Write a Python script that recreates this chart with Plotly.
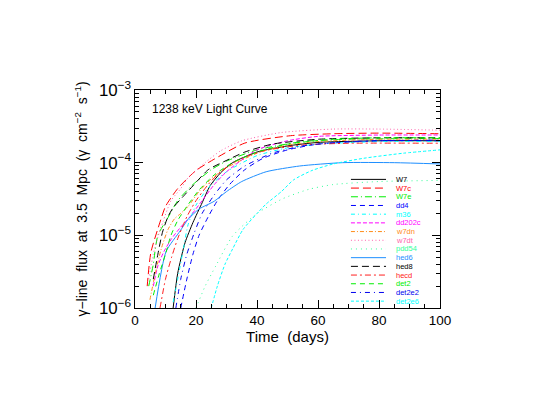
import plotly.graph_objects as go

# --- data (days, flux in photons cm^-2 s^-1) ---
w7_t = [12.5, 14, 16.4, 19, 22, 24.6, 28, 32, 40, 50, 60, 80, 100]
w7_f = [1.0e-6, 3.0e-6, 7.9e-6, 1.5e-5, 2.8e-5, 4.8e-5, 7.2e-5, 1.0e-4, 1.4e-4, 1.7e-4, 1.9e-4, 2.0e-4, 2.0e-4]

w7c_t = [4, 5.2, 8.5, 10, 14, 20, 26, 36, 51, 65, 80, 100]
w7c_f = [2.0e-6, 5.8e-6, 1.66e-5, 2.5e-5, 4.4e-5, 7.8e-5, 1.12e-4, 1.86e-4, 2.35e-4, 2.5e-4, 2.55e-4, 2.5e-4]

w7e_t = [4.5, 5.9, 7.5, 10.8, 14, 19, 25, 30, 40, 55, 70, 100]
w7e_f = [2.0e-6, 3.8e-6, 1.0e-5, 1.75e-5, 3.0e-5, 5.0e-5, 8.0e-5, 1.05e-4, 1.5e-4, 1.95e-4, 2.1e-4, 2.15e-4]

dd4_t = [15, 17, 19, 21, 24, 27, 31, 36, 42, 50, 60, 80, 100]
dd4_f = [1.0e-6, 2.5e-6, 5.5e-6, 1.0e-5, 1.8e-5, 3.0e-5, 5.0e-5, 8.0e-5, 1.15e-4, 1.5e-4, 1.8e-4, 2.0e-4, 2.0e-4]

m36_t = [12.5, 14, 15.7, 17.4, 20, 24, 30, 40, 50, 60, 80, 100]
m36_f = [1.2e-6, 2.5e-6, 6.0e-6, 1.4e-5, 2.6e-5, 4.5e-5, 7.5e-5, 1.25e-4, 1.6e-4, 1.8e-4, 1.95e-4, 1.95e-4]

dd202c_t = [6, 7.5, 9.5, 12, 15, 18, 22, 26, 30, 40, 50, 60, 80, 100]
dd202c_f = [2.0e-6, 3.8e-6, 6.0e-6, 9.0e-6, 1.3e-5, 1.8e-5, 3.0e-5, 5.0e-5, 7.5e-5, 1.5e-4, 2.0e-4, 2.3e-4, 2.4e-4, 2.4e-4]

w7dn_t = [4.9, 6.5, 8.6, 10.8, 13, 15, 17.4, 21, 25, 30, 40, 50, 60, 80, 100]
w7dn_f = [1.3e-6, 2.8e-6, 6.5e-6, 1.2e-5, 1.7e-5, 2.0e-5, 2.5e-5, 4.0e-5, 6.0e-5, 8.5e-5, 1.35e-4, 1.75e-4, 1.95e-4, 2.1e-4, 2.1e-4]

w7dt_t = [4.5, 6, 7.5, 9.2, 11.8, 15, 17.4, 23, 28, 35, 48, 65, 80, 100]
w7dt_f = [2.5e-6, 5.5e-6, 9.5e-6, 1.55e-5, 3.0e-5, 4.4e-5, 6.2e-5, 1.0e-4, 1.45e-4, 2.0e-4, 2.6e-4, 2.9e-4, 2.9e-4, 2.8e-4]

pdd54_t = [20, 23, 26.5, 32, 40, 48.5, 57, 65, 80, 100]
pdd54_f = [1.0e-6, 2.0e-6, 3.8e-6, 9.8e-6, 2.0e-5, 3.2e-5, 4.3e-5, 5.0e-5, 5.5e-5, 5.7e-5]

hed6_t = [6.6, 10.2, 14.8, 17.4, 21, 26, 30, 35, 43, 54, 68, 85, 100]
hed6_f = [1.0e-6, 6.0e-6, 1.15e-5, 1.66e-5, 2.3e-5, 2.95e-5, 4.0e-5, 5.5e-5, 7.5e-5, 9.0e-5, 1.0e-4, 1.0e-4, 9.6e-5]

hed8_t = [6, 7.5, 9, 10.8, 12.5, 16, 19, 24, 29.5, 36, 45, 60, 80, 100]
hed8_f = [2.5e-6, 5.5e-6, 1.1e-5, 1.8e-5, 2.4e-5, 3.5e-5, 4.8e-5, 8.0e-5, 1.05e-4, 1.4e-4, 1.8e-4, 2.1e-4, 2.2e-4, 2.2e-4]

hecd_t = [8.2, 10, 12, 14, 17, 20, 24, 28, 34, 42, 55, 70, 100]
hecd_f = [1.0e-6, 2.5e-6, 5.0e-6, 9.0e-6, 1.8e-5, 3.0e-5, 5.0e-5, 7.5e-5, 1.1e-4, 1.45e-4, 1.75e-4, 1.85e-4, 1.85e-4]

det2_t = [6, 8, 10, 11.8, 14, 17, 21, 26, 32, 40, 50, 65, 80, 100]
det2_f = [1.5e-6, 3.0e-6, 5.5e-6, 1.0e-5, 1.6e-5, 2.5e-5, 4.2e-5, 6.8e-5, 1.0e-4, 1.4e-4, 1.8e-4, 2.1e-4, 2.2e-4, 2.2e-4]

det2e2_t = [13.4, 15, 17, 19.5, 22, 26, 30, 36, 45, 55, 70, 100]
det2e2_f = [1.0e-6, 2.5e-6, 5.5e-6, 1.1e-5, 2.0e-5, 3.6e-5, 5.8e-5, 9.0e-5, 1.35e-4, 1.7e-4, 1.95e-4, 2.05e-4]

det2e6_t = [25, 27, 29.5, 32, 35.4, 40, 43, 48, 52, 58, 65, 75, 88, 100]
det2e6_f = [1.0e-6, 2.0e-6, 4.0e-6, 6.5e-6, 1.2e-5, 2.0e-5, 2.7e-5, 4.0e-5, 5.8e-5, 7.8e-5, 9.6e-5, 1.15e-4, 1.35e-4, 1.5e-4]

models = ["W7", "W7c", "W7e", "dd4", "m36", "dd202c", "w7dn", "w7dt",
          "pdd54", "hed6", "hed8", "hecd", "det2", "det2e2", "det2e6"]
times = [w7_t, w7c_t, w7e_t, dd4_t, m36_t, dd202c_t, w7dn_t, w7dt_t,
         pdd54_t, hed6_t, hed8_t, hecd_t, det2_t, det2e2_t, det2e6_t]
fluxes = [w7_f, w7c_f, w7e_f, dd4_f, m36_f, dd202c_f, w7dn_f, w7dt_f,
          pdd54_f, hed6_f, hed8_f, hecd_f, det2_f, det2e2_f, det2e6_f]

# line styles (colour, dash) per model
styles = {
    "W7": ("#000000", "solid"),
    "W7c": ("#ff0000", "8px,4px"),
    "W7e": ("#00ee00", "7px,3px,1px,3px"),
    "dd4": ("#0000ff", "5px,4px"),
    "m36": ("#00ffff", "4px,3px,1px,3px"),
    "dd202c": ("#ff00ff", "4px,2px"),
    "w7dn": ("#ff8c1a", "4px,2px,1px,2px"),
    "w7dt": ("#ff5faa", "1px,2.5px"),
    "pdd54": ("#33ff99", "1px,4px"),
    "hed6": ("#1e8fff", "solid"),
    "hed8": ("#000000", "7px,4px"),
    "hecd": ("#ff2020", "6px,3px,2px,3px"),
    "det2": ("#00ee00", "5px,4px"),
    "det2e2": ("#0000ee", "5px,4px,1px,4px"),
    "det2e6": ("#00ffff", "3px,2px"),
}

fig = go.Figure()

for name, t, f in zip(models, times, fluxes):
    color, dash = styles[name]
    fig.add_trace(go.Scatter(
        x=t, y=f, mode='lines', name=name,
        line=dict(color=color, width=1.0, dash=dash, shape='spline', smoothing=0.6),
        showlegend=False
    ))

# hand-made legend inside the plot (plotly's legend rows are too tall)
row0 = 0.590
step = 0.0399
for i, name in enumerate(models):
    color, dash = styles[name]
    yp = row0 - i * step
    fig.add_shape(type='line', xref='x', yref='paper',
                  x0=70.8, x1=82.3, y0=yp, y1=yp,
                  line=dict(color=color, width=1.0, dash=dash))
    fig.add_annotation(xref='x', yref='paper', x=85.0, y=yp,
                       text=name, showarrow=False, xanchor='left', yanchor='middle',
                       font=dict(size=7.5, color=color))

fig.add_annotation(xref='x', yref='paper', x=5.0, y=0.915,
                   text="1238 keV Light Curve", showarrow=False,
                   xanchor='left', yanchor='middle',
                   font=dict(size=12, color='black'))

axis_style = dict(
    showline=True, linecolor='black', linewidth=1.2, mirror='ticks',
    ticks='inside', tickcolor='black', showgrid=False, zeroline=False,
    tickfont=dict(size=13.5, color='black'),
)

fig.update_xaxes(
    range=[0, 100], tick0=0, dtick=20, ticklen=8,
    minor=dict(ticks='inside', dtick=5, ticklen=4, tickcolor='black', showgrid=False),
    title=dict(text="Time  (days)", font=dict(size=15, color='black'), standoff=0),
    **axis_style
)
fig.update_yaxes(
    type='log', range=[-6, -3], dtick=1, exponentformat='power', ticklen=8,
    minor=dict(ticks='inside', dtick='D1', ticklen=4, tickcolor='black', showgrid=False),
    title=dict(text="γ−line  flux  at  3.5  Mpc  (γ  cm<sup>−2</sup>  s<sup>−1</sup>)",
               font=dict(size=14, color='black'), standoff=8),
    **axis_style
)

fig.update_layout(
    width=533, height=412,
    margin=dict(l=127, r=101, t=82, b=112),
    paper_bgcolor='white', plot_bgcolor='white',
    font=dict(family='Liberation Sans, Arial, sans-serif', color='black'),
    showlegend=False
)

fig.write_html("out.html")
